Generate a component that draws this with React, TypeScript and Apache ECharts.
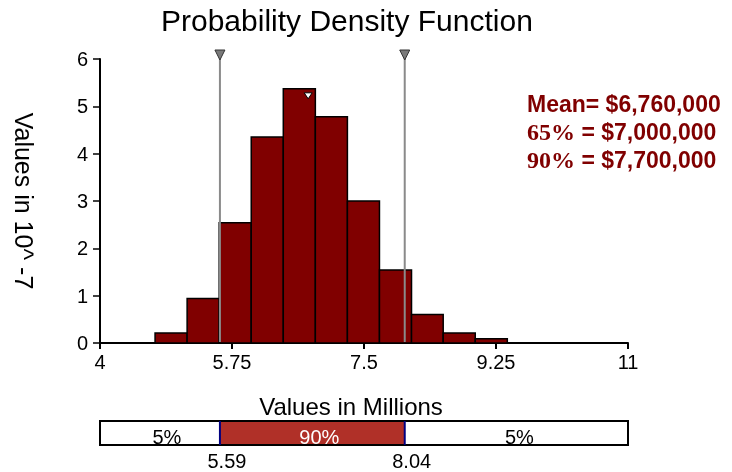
import React, { useEffect, useRef } from "react";
import * as echarts from "echarts";

// ---- data ----
const binEdges = [4.73, 5.155, 5.58, 6.005, 6.43, 6.855, 7.28, 7.705, 8.13, 8.55, 8.975, 9.4];
const densities = [0.21, 0.94, 2.54, 4.35, 5.37, 4.78, 3.0, 1.54, 0.6, 0.21, 0.09];
const xMin = 4;
const xMax = 11;
const xInterval = 1.75;
const yMin = 0;
const yMax = 6;
const meanValue = 6.76;
const lowerPct = 5.59;
const upperPct = 8.04;
const bandLabels = ["5%", "90%", "5%"];
const statLabels = ["Mean=", "65%", "90%"];
const statValues = [6760000, 7000000, 7700000];

const FONT = '"Liberation Sans", Arial, sans-serif';
const SERIF = '"Liberation Serif", "Times New Roman", serif';
const DARK_RED = "#800000";

export default function App() {
  const ref = useRef<HTMLDivElement>(null);

  useEffect(() => {
    if (!ref.current) return;
    const chart = echarts.init(ref.current, undefined, { renderer: "svg" });

    const histData = densities.map((d, i) => [binEdges[i], binEdges[i + 1], d]);
    let meanHeight = 0;
    for (let i = 0; i < densities.length; i++) {
      if (meanValue >= binEdges[i] && meanValue < binEdges[i + 1]) meanHeight = densities[i];
    }
    const bandEdges = [xMin, lowerPct, upperPct, xMax];
    const fmt = (v: number) => "$" + v.toLocaleString("en-US");

    const option: any = {
      animation: false,
      textStyle: { fontFamily: FONT },
      title: {
        text: "Probability Density Function",
        left: 156,
        top: 0,
        textStyle: { fontSize: 30, fontWeight: "normal", color: "#000", fontFamily: FONT },
      },
      grid: [
        { left: 100, right: 104, top: 59, bottom: 129 },
        { left: 100, right: 104, top: 421, height: 24 },
      ],
      xAxis: [
        {
          type: "value",
          gridIndex: 0,
          min: xMin,
          max: xMax,
          interval: xInterval,
          axisLine: { show: true, onZero: false, lineStyle: { color: "#000", width: 2 } },
          axisTick: { show: true, length: 6, lineStyle: { color: "#000", width: 2 } },
          axisLabel: { fontSize: 20, color: "#000", margin: 9, fontFamily: FONT },
          splitLine: { show: false },
        },
        { type: "value", gridIndex: 1, min: xMin, max: xMax, show: false },
      ],
      yAxis: [
        {
          type: "value",
          gridIndex: 0,
          min: yMin,
          max: yMax,
          interval: 1,
          name: "Values in 10^ -7",
          nameLocation: "middle",
          nameRotate: -90,
          nameGap: 64,
          nameTextStyle: { fontSize: 25, color: "#000", fontFamily: FONT },
          axisLine: { show: true, lineStyle: { color: "#000", width: 2 } },
          axisTick: { show: true, length: 7, lineStyle: { color: "#000", width: 1.5 } },
          axisLabel: { fontSize: 20, color: "#000", margin: 12, fontFamily: FONT },
          splitLine: { show: false },
        },
        { type: "value", gridIndex: 1, min: 0, max: 1, show: false },
      ],
      series: [
        {
          type: "custom",
          name: "histogram",
          xAxisIndex: 0,
          yAxisIndex: 0,
          encode: { x: [0, 1], y: 2 },
          data: histData,
          renderItem: (params: any, api: any) => {
            const p0 = api.coord([api.value(0), api.value(2)]);
            const p1 = api.coord([api.value(1), 0]);
            return {
              type: "rect",
              shape: { x: p0[0], y: p0[1], width: p1[0] - p0[0], height: p1[1] - p0[1] },
              style: { fill: "#800000", stroke: "#000", lineWidth: 1.5 },
            };
          },
        },
        {
          type: "custom",
          name: "percentiles",
          xAxisIndex: 0,
          yAxisIndex: 0,
          encode: { x: 0 },
          data: [[lowerPct], [upperPct]],
          z: 5,
          renderItem: (params: any, api: any) => {
            const v = api.value(0);
            const bottom = api.coord([v, yMin]);
            const top = api.coord([v, yMax]);
            const x = bottom[0];
            return {
              type: "group",
              children: [
                {
                  type: "line",
                  shape: { x1: x, y1: top[1] - 4, x2: x, y2: bottom[1] - 1 },
                  style: { stroke: "#8a8a8a", lineWidth: 2 },
                },
                {
                  type: "polygon",
                  shape: { points: [[x - 5, top[1] - 9], [x + 5, top[1] - 9], [x, top[1] + 1]] },
                  style: { fill: "#7a7a7a", stroke: "#333", lineWidth: 1 },
                },
              ],
            };
          },
        },
        {
          type: "custom",
          name: "mean",
          xAxisIndex: 0,
          yAxisIndex: 0,
          encode: { x: 0, y: 1 },
          data: [[meanValue, meanHeight]],
          z: 6,
          renderItem: (params: any, api: any) => {
            const p = api.coord([api.value(0), api.value(1)]);
            return {
              type: "polygon",
              shape: { points: [[p[0] - 4, p[1] + 4], [p[0] + 4, p[1] + 4], [p[0], p[1] + 10]] },
              style: { fill: "#fff", stroke: "#000", lineWidth: 1 },
            };
          },
        },
        {
          type: "custom",
          name: "band",
          xAxisIndex: 1,
          yAxisIndex: 1,
          data: [[0]],
          renderItem: (params: any, api: any) => {
            const children: any[] = [];
            const yTop = api.coord([xMin, 1])[1];
            const yBot = api.coord([xMin, 0])[1];
            for (let i = 0; i < 3; i++) {
              const a = api.coord([bandEdges[i], 1]);
              const b = api.coord([bandEdges[i + 1], 0]);
              const middle = i === 1;
              children.push({
                type: "rect",
                shape: { x: a[0], y: a[1], width: b[0] - a[0], height: b[1] - a[1] },
                style: { fill: middle ? "#B03028" : "#fff" },
              });
              children.push({
                type: "text",
                style: {
                  text: bandLabels[i],
                  x: (a[0] + b[0]) / 2 + (i === 2 ? 3 : 7),
                  y: (yTop + yBot) / 2 + 4,
                  align: "center",
                  verticalAlign: "middle",
                  font: `20px ${FONT}`,
                  fill: middle ? "#fff" : "#000",
                },
              });
            }
            const l = api.coord([xMin, 1]);
            const r = api.coord([xMax, 0]);
            children.push({
              type: "rect",
              shape: { x: l[0], y: l[1], width: r[0] - l[0], height: r[1] - l[1] },
              style: { fill: "none", stroke: "#000", lineWidth: 2 },
            });
            [lowerPct, upperPct].forEach((v) => {
              const x = api.coord([v, 0])[0];
              children.push({
                type: "line",
                shape: { x1: x, y1: yTop, x2: x, y2: yBot },
                style: { stroke: "#000080", lineWidth: 2 },
              });
              children.push({
                type: "text",
                style: {
                  text: v.toFixed(2),
                  x: x + 7,
                  y: yBot + 16,
                  align: "center",
                  verticalAlign: "middle",
                  font: `20px ${FONT}`,
                  fill: "#000",
                },
              });
            });
            return { type: "group", children };
          },
        },
      ],
      graphic: [
        {
          type: "text",
          x: 351,
          y: 406,
          style: {
            text: "Values in Millions",
            align: "center",
            verticalAlign: "middle",
            font: `24px ${FONT}`,
            fill: "#000",
          },
        },
        ...statLabels.map((lab, i) => ({
          type: "text",
          x: 527,
          y: 104 + i * 28,
          style: {
            text: i === 0 ? `{a|${lab} ${fmt(statValues[i])}}` : `{s|${lab}}{a| = ${fmt(statValues[i])}}`,
            verticalAlign: "middle",
            fill: DARK_RED,
            rich: {
              a: { fontFamily: FONT, fontWeight: "bold", fontSize: 23, fill: DARK_RED, color: DARK_RED },
              s: { fontFamily: SERIF, fontWeight: "bold", fontSize: 24, fill: DARK_RED, color: DARK_RED },
            },
          },
        })),
      ],
    };

    chart.setOption(option);
    return () => chart.dispose();
  }, []);

  return (
    <div
      ref={ref}
      style={{ position: "fixed", left: 0, top: 0, width: 732, height: 472 }}
    />
  );
}
